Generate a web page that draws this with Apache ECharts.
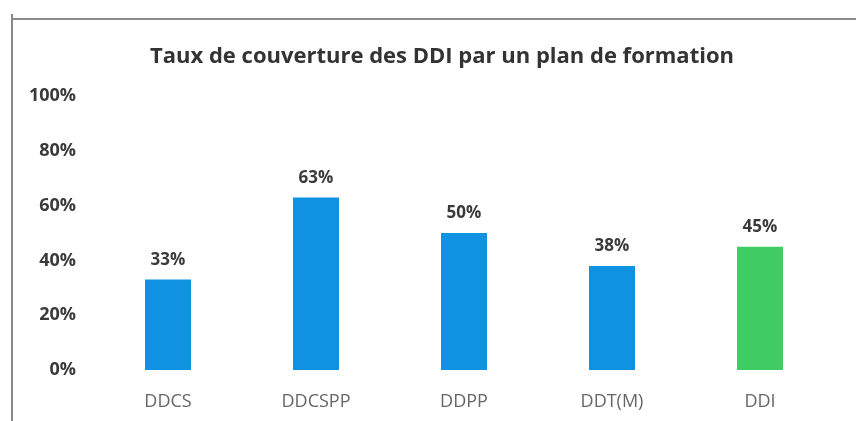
<!DOCTYPE html>
<html>
<head>
<meta charset="utf-8">
<script src="https://cdn.jsdelivr.net/npm/echarts@6/dist/echarts.min.js"></script>
<style>
  html, body { margin: 0; padding: 0; background: #fff; }
  #chart { width: 856px; height: 421px; }
</style>
</head>
<body>
<div id="chart"></div>
<script>
const TITLE = 'Taux de couverture des DDI par un plan de formation'
const categories = ['DDCS', 'DDCSPP', 'DDPP', 'DDT(M)', 'DDI']
const values = [33, 63, 50, 38, 45]
const barColors = ['#1193e4', '#1193e4', '#1193e4', '#1193e4', '#3fcd63']
const yTicks = [0, 20, 40, 60, 80, 100]

const FONT = "'Open Sans', 'Noto Sans', sans-serif"

const chart = echarts.init(document.getElementById('chart'))
chart.setOption({
  animation: false,
  textStyle: { fontFamily: FONT },
  title: {
    text: TITLE,
    left: 437,
    textAlign: 'center',
    top: 41,
    textStyle: { fontSize: 22, fontWeight: 'bold', color: '#333', fontFamily: FONT }
  },
  graphic: [
    { type: 'line', shape: { x1: 12, y1: 19, x2: 856, y2: 19 }, style: { stroke: '#8a8a8a', lineWidth: 2 } },
    { type: 'line', shape: { x1: 12, y1: 14, x2: 12, y2: 421 }, style: { stroke: '#8a8a8a', lineWidth: 2 } }
  ],
  grid: { left: 94, right: 22, top: 96, bottom: 51 },
  xAxis: {
    type: 'category',
    data: categories,
    axisLine: { show: false },
    axisTick: { show: false },
    axisLabel: { color: '#666', fontSize: 18, margin: 23, fontFamily: FONT }
  },
  yAxis: {
    type: 'value',
    min: yTicks[0],
    max: yTicks[yTicks.length - 1],
    interval: 20,
    splitLine: { show: false },
    axisLine: { show: false },
    axisTick: { show: false },
    axisLabel: {
      color: '#3a3a3a', fontSize: 18, fontWeight: 'bold', margin: 18, fontFamily: FONT,
      formatter: (v) => v + '%'
    }
  },
  series: [{
    type: 'bar',
    barWidth: 46,
    data: values.map((v, i) => ({ value: v, itemStyle: { color: barColors[i] } })),
    label: {
      show: true,
      position: 'top',
      distance: 11,
      color: '#3a3a3a',
      fontSize: 17,
      fontWeight: 'bold',
      fontFamily: FONT,
      formatter: (p) => p.value + '%'
    }
  }]
})
</script>
</body>
</html>
